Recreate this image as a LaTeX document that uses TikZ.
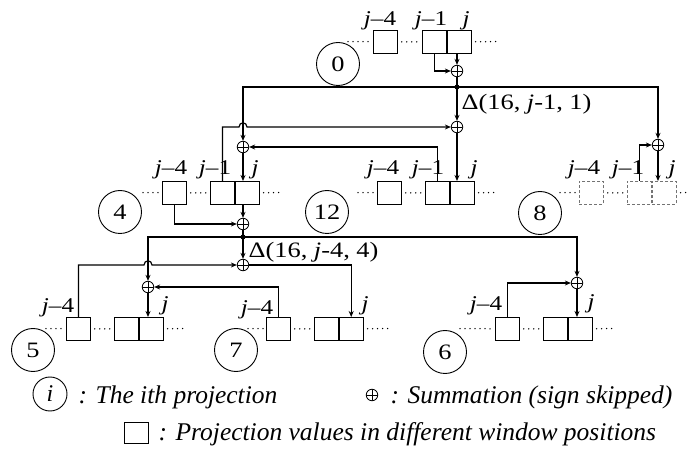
\documentclass[tikz,border=0pt]{standalone}
\usepackage{fontspec}
\setmainfont{Liberation Serif}
\newfontfamily\dfont[FakeStretch=1.2]{Liberation Serif}
\usetikzlibrary{arrows.meta,calc}
\begin{document}
\begin{tikzpicture}[x=1pt,y=-1pt,
 line width=1.2pt,
 arr/.style={-{Stealth[length=6pt,width=5pt]}},
 pbox/.style={draw, line width=0.8pt, minimum width=24pt, minimum height=23pt, inner sep=0, anchor=north west},
 lbox/.style={pbox, draw=black!55, densely dashed},
 sumn/.style={circle, draw, line width=0.8pt, minimum size=11.5pt, inner sep=0,
   path picture={\draw[line width=0.6pt] (path picture bounding box.north) -- (path picture bounding box.south)
     (path picture bounding box.west) -- (path picture bounding box.east);}},
 pnum/.style={circle, draw, line width=0.9pt, minimum size=43pt, inner sep=0, font=\dfont\fontsize{22}{22}\selectfont},
 lab/.style={anchor=base, inner sep=0, font=\dfont\fontsize{21}{21}\selectfont},
 dlab/.style={anchor=west, inner sep=0, font=\dfont\fontsize{22}{22}\selectfont},
 dotline/.style={line width=1.5pt, line cap=round, dash pattern=on 0pt off 5pt, shorten <=4pt, shorten >=3pt},
 legt/.style={anchor=base west, inner sep=0, font=\fontsize{25.5}{25.5}\selectfont\itshape}
]
\useasboundingbox (0,0) rectangle (689,449);

% ---- group 0 ----
\node[pbox] (g0a) at (373,30) {};
\node[pbox] (g0b) at (422,30) {};
\node[pbox] (g0c) at (g0b.north east) {};
\coordinate (g0l) at (344,41.5);
\coordinate (g0r) at (503,41.5);
\draw[dotline] (g0l) -- (g0a);
\draw[dotline] (g0a) -- (g0b);
\draw[dotline] (g0c) -- (g0r);
\node[lab] (l0a) at (380,26) {\textit{j}–4};
\node[lab] (l0b) at (431,26) {\textit{j}–1};
\node[lab] (l0c) at (466,26) {\textit{j}};
\node[pnum] (c0) at (338,64) {0};

% ---- group 4 ----
\node[pbox] (g4a) at (162,181) {};
\node[pbox] (g4b) at (210,181) {};
\node[pbox] (g4c) at (g4b.north east) {};
\coordinate (g4l) at (139,192.5);
\coordinate (g4r) at (283,192.5);
\draw[dotline] (g4l) -- (g4a);
\draw[dotline] (g4a) -- (g4b);
\draw[dotline] (g4c) -- (g4r);
\node[lab] (l4a) at (171,175) {\textit{j}–4};
\node[lab] (l4b) at (215,175) {\textit{j}–1};
\node[lab] (l4c) at (255,175) {\textit{j}};
\node[pnum] (c4) at (120,212) {4};

% ---- group 12 ----
\node[pbox] (g12a) at (377,181) {};
\node[pbox] (g12b) at (425,181) {};
\node[pbox] (g12c) at (g12b.north east) {};
\coordinate (g12l) at (354,192.5);
\coordinate (g12r) at (498,192.5);
\draw[dotline] (g12l) -- (g12a);
\draw[dotline] (g12a) -- (g12b);
\draw[dotline] (g12c) -- (g12r);
\node[lab] (l12a) at (383,175) {\textit{j}–4};
\node[lab] (l12b) at (428,175) {\textit{j}–1};
\node[lab] (l12c) at (474,175) {\textit{j}};
\node[pnum] (c12) at (327,212) {12};

% ---- group 8 ----
\node[lbox] (g8a) at (579,181) {};
\node[lbox] (g8b) at (627,181) {};
\node[lbox] (g8c) at (g8b.north east) {};
\coordinate (g8l) at (556,192.5);
\coordinate (g8r) at (692,192.5);
\draw[dotline] (g8l) -- (g8a);
\draw[dotline] (g8a) -- (g8b);
\draw[dotline] (g8c) -- (g8r);
\node[lab] (l8a) at (584,175) {\textit{j}–4};
\node[lab] (l8b) at (628,175) {\textit{j}–1};
\node[lab] (l8c) at (672,175) {\textit{j}};
\node[pnum] (c8) at (540,213) {8};

% ---- group 5 ----
\node[pbox] (g5a) at (66,317) {};
\node[pbox] (g5b) at (114,317) {};
\node[pbox] (g5c) at (g5b.north east) {};
\coordinate (g5l) at (42,328.5);
\coordinate (g5r) at (188,328.5);
\draw[dotline] (g5l) -- (g5a);
\draw[dotline] (g5a) -- (g5b);
\draw[dotline] (g5c) -- (g5r);
\node[lab] (l5a) at (58,313) {\textit{j}–4};
\node[lab] (l5c) at (165,311) {\textit{j}};
\node[pnum] (c5) at (33,350) {5};

% ---- group 7 ----
\node[pbox] (g7a) at (266,317) {};
\node[pbox] (g7b) at (314,317) {};
\node[pbox] (g7c) at (g7b.north east) {};
\coordinate (g7l) at (244,328.5);
\coordinate (g7r) at (392,328.5);
\draw[dotline] (g7l) -- (g7a);
\draw[dotline] (g7a) -- (g7b);
\draw[dotline] (g7c) -- (g7r);
\node[lab] (l7a) at (257,315) {\textit{j}–4};
\node[lab] (l7c) at (365,311) {\textit{j}};
\node[pnum] (c7) at (236,350) {7};

% ---- group 6 ----
\node[pbox] (g6a) at (495,317) {};
\node[pbox] (g6b) at (543,317) {};
\node[pbox] (g6c) at (g6b.north east) {};
\coordinate (g6l) at (456,328.5);
\coordinate (g6r) at (615,328.5);
\draw[dotline] (g6l) -- (g6a);
\draw[dotline] (g6a) -- (g6b);
\draw[dotline] (g6c) -- (g6r);
\node[lab] (l6a) at (486,311) {\textit{j}–4};
\node[lab] (l6c) at (591,309) {\textit{j}};
\node[pnum] (c6) at (445,352) {6};

% ---- summations ----
\node[sumn] (s0) at (457,71) {};
\node[sumn] (sA) at (457,127) {};
\node[sumn] (sB) at (243,147) {};
\node[sumn] (sC) at (658,145) {};
\node[sumn] (sD) at (243,224) {};
\node[sumn] (sE) at (243,265) {};
\node[sumn] (sF) at (148,287) {};
\node[sumn] (sG) at (577,283) {};
\coordinate (J1) at (457,87);
\coordinate (J2) at (243,237);

% ---- level 1 connectors ----
\draw[arr] (g0b.south) |- (s0);
\draw[arr] (s0 |- g0c.south) -- (s0);
\draw (s0) -- (J1);
\draw[arr] (J1) -- (sA);
\draw[arr] (J1) -| (sB);
\draw[arr] (J1) -| (sC);
\fill (J1) circle (2.5);
\node[dlab] (d1) at (461,104) {Δ(16, \textit{j}-1, 1)};

\draw[arr] (g4b.north) -- (g4b.north |- sA) -- ($(sB |- sA)+(-4,0)$)
  .. controls +(0,-5.5) and +(0,-5.5) .. ($(sB |- sA)+(4,0)$) -- (sA);
\draw[arr] (sA) -- (sA |- g12c.north);
\draw[arr] (g12b.north) |- (sB);
\draw[arr] (sB) -- (sB |- g4c.north);
\draw[arr] (g8b.north) |- (sC);
\draw[arr] (sC) -- (sC |- g8c.north);

% ---- level 2 connectors ----
\draw[arr] (g4a.south) |- (sD);
\draw[arr] (sD |- g4c.south) -- (sD);
\draw (sD) -- (J2);
\draw[arr] (J2) -- (sE);
\draw[arr] (J2) -| (sF);
\draw[arr] (J2) -| (sG);
\fill (J2) circle (2.5);
\node[dlab] (d2) at (248,252) {Δ(16, \textit{j}-4, 4)};

\draw[arr] (g5a.north) -- (g5a.north |- sE) -- ($(sF |- sE)+(-4,0)$)
  .. controls +(0,-5.5) and +(0,-5.5) .. ($(sF |- sE)+(4,0)$) -- (sE);
\draw[arr] (sE) -| (g7c.north);
\draw[arr] (g7a.north) |- (sF);
\draw[arr] (sF) -- (sF |- g5c.north);
\draw[arr] (g6a.north) |- (sG);
\draw[arr] (sG) -- (sG |- g6c.north);

% ---- legend ----
\node[pnum, minimum size=34pt, font=\fontsize{24}{24}\selectfont\itshape] (li) at (50,394) {i};
\node[legt] (lt1) at (78,403) {: The ith projection};
\node[sumn] (ls) at (372,395) {};
\node[legt] (lt2) at (390,403) {: Summation (sign skipped)};
\node[draw, line width=0.8pt, minimum width=24pt, minimum height=21pt, inner sep=0] (lsq) at (136,433) {};
\node[legt] (lt3) at (158,440) {: Projection values in different window positions};
\end{tikzpicture}
\end{document}
